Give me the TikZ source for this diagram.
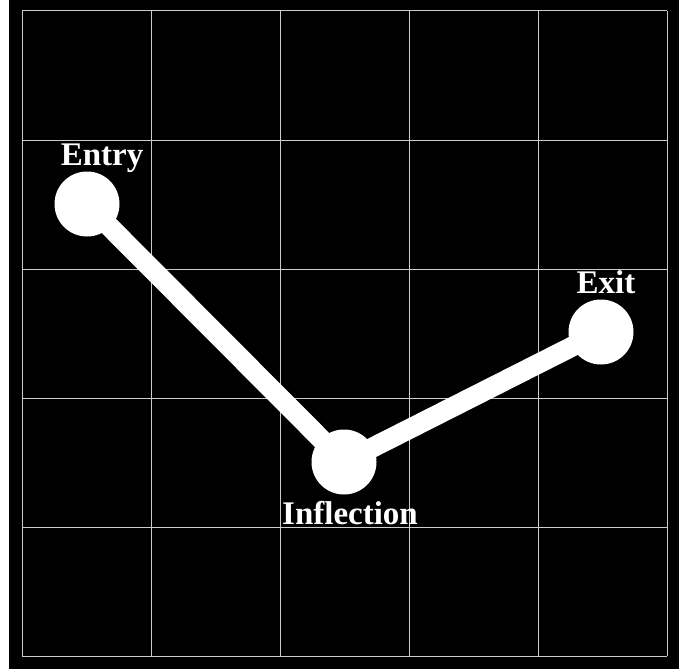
\documentclass[tikz,border=0pt]{standalone}
\usepackage{fontspec}
\setmainfont{Liberation Serif}
\begin{document}
\begin{tikzpicture}[x=1pt,y=-1pt,
  gridline/.style={draw=black!20, line width=1pt},
  waypt/.style={circle, fill=white, minimum size=65pt, inner sep=0pt},
  lbl/.style={text=white, font=\fontsize{33}{38}\selectfont\bfseries, anchor=base, inner sep=0pt},
  track/.style={draw=white, line width=20pt, line join=round}]
\useasboundingbox (0,0) rectangle (694,669);
\fill[white] (0,0) rectangle (694,669);
\fill[black] (9,0) rectangle (679,669);
\foreach \i in {0,...,5} {
  \draw[gridline] ({22+129*\i},11) -- ({22+129*\i},656);
  \draw[gridline] (22,{11+129*\i}) -- (667,{11+129*\i});
}
\node[waypt] (entry) at (87,204) {};
\node[waypt] (infl) at (344,462) {};
\node[waypt] (exit) at (601,332) {};
\draw[track] (entry.center) -- (infl.center) -- (exit.center);
\node[lbl] (lentry) at (102,165) {Entry};
\node[lbl] (linfl) at (350,524) {Inflection};
\node[lbl] (lexit) at (606,293) {Exit};
\end{tikzpicture}
\end{document}
